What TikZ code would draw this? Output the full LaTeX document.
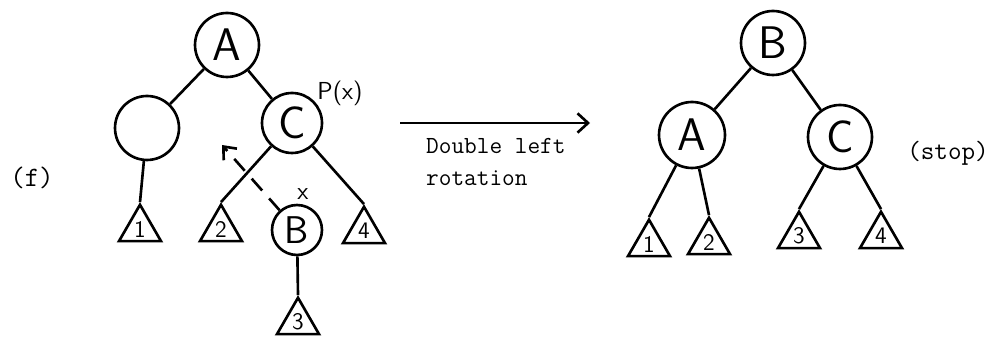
\documentclass[tikz,border=0pt]{standalone}
\usepackage{tikz}
\usetikzlibrary{shapes.geometric,arrows.meta}
\tikzset{
  keynode/.style={circle, draw, line width=1.5pt, minimum size=1.28cm, inner sep=0pt,
    font=\sffamily\fontsize{26}{28}\selectfont},
  subtri/.style={regular polygon, regular polygon sides=3, draw, line width=1.5pt,
    minimum size=0.97cm, inner sep=0pt, font=\sffamily\fontsize{13.5}{15}\selectfont},
  edge/.style={line width=1.5pt},
  caption/.style={font=\ttfamily\fontsize{14}{18}\selectfont},
  mark label/.style={font=\sffamily\fontsize{14}{16}\selectfont, inner sep=0pt}
}
\newcommand{\subtree}[3]{\node[subtri] (#1) at (#2) {#3};}

\begin{document}
\begin{tikzpicture}[x=0.02cm, y=-0.02cm]
  \useasboundingbox (0,0) rectangle (997,337);
  \node[caption, font=\ttfamily\fontsize{16}{18}\selectfont] (case) at (32,178) {(f)};
  \node[keynode] (la) at (227,45) {A};
  \node[keynode] (lx) at (147,128) {};
  \node[keynode, minimum size=1.2cm] (lc) at (292,123) {C};
  \node[keynode, minimum size=1.0cm, font=\sffamily\fontsize{22}{24}\selectfont] (lb) at (297,230) {B};
  \node[mark label] (px) at (340,93) {P(x)};
  \node[mark label] (xl) at (303,194) {x};
  \subtree{lt1}{140,229}{1}
  \subtree{lt2}{221,229}{2}
  \subtree{lt4}{364,231}{4}
  \subtree{lt3}{298,322}{3}
  \draw[edge] (la) -- (lx);
  \draw[edge] (la) -- (lc);
  \draw[edge] (lx) -- (lt1.corner 1);
  \draw[edge] (lc) -- (lt2.corner 1);
  \draw[edge] (lc) -- (lt4.corner 1);
  \draw[edge] (lb) -- (lt3.corner 1);
  \coordinate (dtip) at (222,145);
  \draw[edge, dashed, dash pattern=on 9pt off 6pt, -{Straight Barb[length=6pt, width=10pt]}] (lb) -- (dtip);
  \coordinate (rs) at (400,123);
  \coordinate (re) at (590,123);
  \draw[edge, -{Straight Barb[length=6pt, width=11pt]}] (rs) -- (re);
  \node[caption, align=left, anchor=north west] (rot) at (420,132) {Double left\\rotation};
  \node[keynode] (rb) at (773,43) {B};
  \node[keynode, minimum size=1.32cm] (ra) at (692,135) {A};
  \node[keynode] (rc) at (840,137) {C};
  \node[caption, font=\ttfamily\fontsize{15}{18}\selectfont] (stop) at (948,153) {(stop)};
  \subtree{rt1}{649,244}{1}
  \subtree{rt2}{709,242}{2}
  \subtree{rt3}{799,236}{3}
  \subtree{rt4}{881,236}{4}
  \draw[edge] (rb) -- (ra);
  \draw[edge] (rb) -- (rc);
  \draw[edge] (ra) -- (rt1.corner 1);
  \draw[edge] (ra) -- (rt2.corner 1);
  \draw[edge] (rc) -- (rt3.corner 1);
  \draw[edge] (rc) -- (rt4.corner 1);
\end{tikzpicture}
\end{document}
